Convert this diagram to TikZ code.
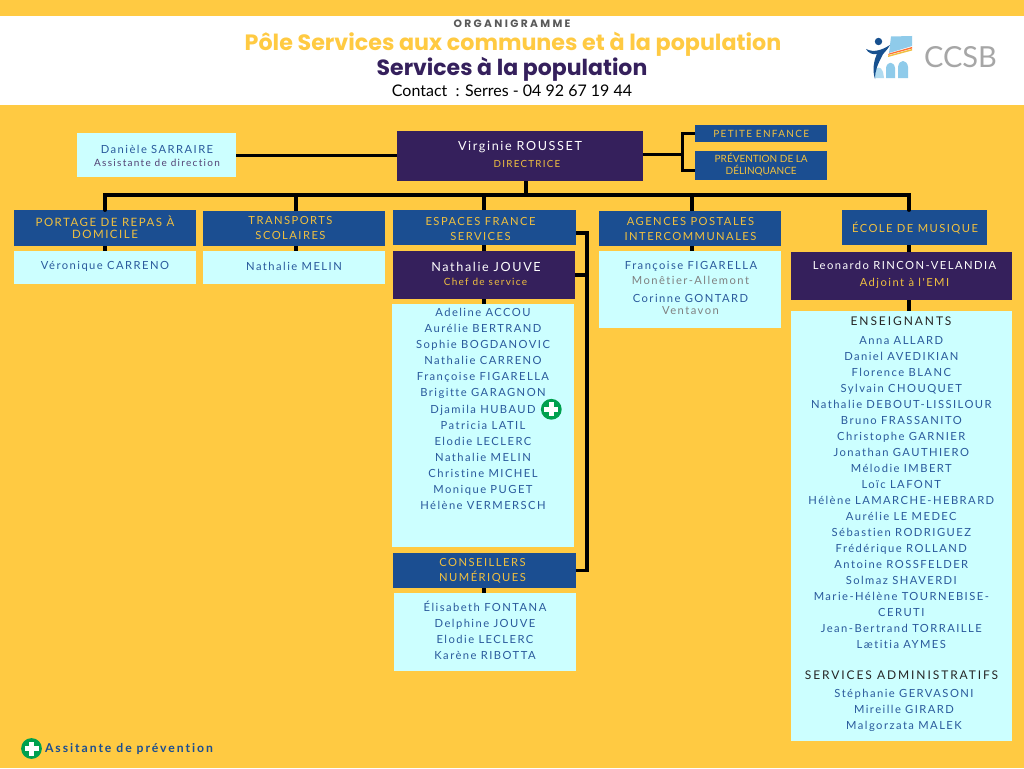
\documentclass[tikz,border=0pt]{standalone}
\usepackage{fontspec}
\setmainfont{Lato}
\newfontfamily\spacedfont[LetterSpace=13,Ligatures=NoCommon]{Lato}
\newfontfamily\widefont[LetterSpace=16,Ligatures=NoCommon]{Lato}
\newfontfamily\titlefont[BoldFont={Poppins Bold}]{Poppins}
\newfontfamily\capsfont[LetterSpace=22,BoldFont={Poppins Bold}]{Poppins}
\definecolor{fond}{HTML}{FFCA42}
\definecolor{violet}{HTML}{35205C}
\definecolor{bleu}{HTML}{1B4E91}
\definecolor{ciel}{HTML}{CCFFFF}
\definecolor{nom}{HTML}{2A5A9C}
\definecolor{or}{HTML}{F0C040}
\definecolor{titreor}{HTML}{FFCA42}
\definecolor{vert}{HTML}{00A04E}
\definecolor{logobleu}{HTML}{8FCBEA}
\definecolor{logonuit}{HTML}{17508F}
\tikzset{
  boxsize/.style 2 args={minimum width=#1pt,minimum height=#2pt},
  panel/.style={inner sep=0pt,outer sep=0pt},
  sectionbox/.style={panel,fill=bleu,text=or,align=center,font=\spacedfont\fontsize{11.2}{15}\selectfont},
  chiefbox/.style={panel,fill=violet,text=white,align=center},
  namebox/.style={panel,fill=ciel,text=nom,align=center,font=\spacedfont\fontsize{11.2}{14}\selectfont},
  nameline/.style={panel,text=nom,font=\spacedfont\fontsize{11.2}{14}\selectfont},
  namelist/.style={panel,anchor=north,text=nom,align=center,font=\spacedfont\fontsize{11.2}{16}\selectfont},
  grouphead/.style={panel,text=black!85,font=\widefont\fontsize{12}{14}\selectfont},
  link/.style={line width=3.9pt},
  thinlink/.style={line width=3pt}
}
\newcommand{\plusmark}[2]{
  \fill[vert] (#1,#2) circle (10.4pt);
  \fill[white] (#1-7,#2-2.6) rectangle (#1+7,#2+2.6);
  \fill[white] (#1-2.6,#2-7) rectangle (#1+2.6,#2+7);
}
\begin{document}
\begin{tikzpicture}[x=1pt,y=-1pt]
  \useasboundingbox (0,0) rectangle (1024,768);
  \fill[fond] (0,0) rectangle (1024,768);
  \fill[white] (0,16) rectangle (1024,105);

  % header
  \node[panel,text=black!65,font=\capsfont\bfseries\fontsize{10.7}{12}\selectfont] (orga) at (512,24) {ORGANIGRAMME};
  \node[panel,text=titreor,font=\titlefont\bfseries\fontsize{22.2}{24}\selectfont] (pole) at (513,44.5) {Pôle Services aux communes et à la population};
  \node[panel,text=violet,font=\titlefont\bfseries\fontsize{22}{24}\selectfont] (service) at (512,69.5) {Services à la population};
  \node[panel,font=\fontsize{16}{18}\selectfont] (contact) at (512,91) {Contact~ : Serres - 04 92 67 19 44};

  % logo
  \fill[logobleu] (891,36.5) -- (912,36) -- (912,46) -- (889,53) -- cycle;
  \fill[red!70!yellow!80] (889,53.5) -- (912,47) -- (912,48.5) -- (888,55) -- cycle;
  \fill[or] (888,55.5) -- (912,49) -- (912,50.5) -- (888,57) -- cycle;
  \fill[logobleu!70] (875,78) -- (875,72) .. controls (876,66) and (881,66) .. (883,72) -- (884,78) -- cycle;
  \fill[logobleu] (886,78) -- (886,68) .. controls (887,61) and (894,61) .. (895,68) -- (895,78) -- cycle;
  \fill[logobleu] (898,78) -- (898,67) .. controls (899,59) and (907,59) .. (908,67) -- (908,78) -- cycle;
  \fill[logonuit] (878.5,41.5) circle (3.7pt);
  \fill[logonuit] (866,49) .. controls (874,53) and (882,50) .. (890,45) .. controls (886,52) and (883,53) .. (882,56)
    .. controls (878,64) and (875,70) .. (875,79) .. controls (872,70) and (874,60) .. (877,54) .. controls (873,55) and (868,53) .. (866,49) -- cycle;
  \node[panel,text=black!35,font=\fontsize{29}{30}\selectfont] (ccsb) at (960.5,57) {CCSB};

  % direction
  \node[namebox,boxsize={159}{44}] (sarraire) at (156.5,155) {};
  \node[nameline] (sarrairenom) at (157,149) {Danièle SARRAIRE};
  \node[panel,text=violet!85,font=\spacedfont\fontsize{10}{12}\selectfont] (sarrairerole) at (157,163) {Assistante de direction};
  \node[chiefbox,boxsize={246}{50}] (rousset) at (520,156) {};
  \node[panel,text=white,font=\spacedfont\fontsize{12.6}{14}\selectfont] (roussetnom) at (520,147.5) {Virginie ROUSSET};
  \node[panel,text=or,font=\spacedfont\fontsize{9.8}{12}\selectfont] (roussetrole) at (527,164) {DIRECTRICE};
  \node[sectionbox,boxsize={132.5}{17},font=\spacedfont\fontsize{10}{12}\selectfont] (petite) at (761.2,133.5) {PETITE ENFANCE};
  \node[sectionbox,boxsize={132.5}{29},font=\fontsize{10}{12}\selectfont] (prevention) at (761.2,165) {PRÉVENTION DE LA\\DÉLINQUANCE};

  % services
  \node[sectionbox,boxsize={182}{36}] (portage) at (105,228) {};
  \node[panel,text=or,align=center,font=\spacedfont\fontsize{11.5}{12}\selectfont] (portagetexte) at (105,227.5) {PORTAGE DE REPAS À\\DOMICILE};
  \node[sectionbox,boxsize={182}{35}] (transports) at (294,228.5) {};
  \node[panel,text=or,align=center,font=\spacedfont\fontsize{11.2}{15}\selectfont] (transportstexte) at (290.5,228) {TRANSPORTS\\SCOLAIRES};
  \node[sectionbox,boxsize={183}{35}] (espaces) at (484.5,227.5) {};
  \node[panel,text=or,align=center,font=\spacedfont\fontsize{11.2}{15}\selectfont] (espacestexte) at (480.5,229) {ESPACES FRANCE\\SERVICES};
  \node[sectionbox,boxsize={182}{35}] (agences) at (690,228.5) {};
  \node[panel,text=or,align=center,font=\spacedfont\fontsize{11.2}{15}\selectfont] (agencestexte) at (690.5,228.5) {AGENCES POSTALES\\INTERCOMMUNALES};
  \node[sectionbox,boxsize={145}{35}] (ecole) at (914.5,227.5) {};
  \node[panel,text=or,font=\spacedfont\fontsize{11.2}{15}\selectfont] (ecoletexte) at (915,228.5) {ÉCOLE DE MUSIQUE};

  \node[namebox,boxsize={182}{33}] (carreno) at (105,267.5) {};
  \node[nameline] (carrenonom) at (105,266.5) {Véronique CARRENO};
  \node[namebox,boxsize={182}{33}] (melin) at (294,267.5) {};
  \node[nameline] (melinnom) at (294,266.5) {Nathalie MELIN};

  % espaces france services
  \node[chiefbox,boxsize={182}{48}] (jouve) at (484,275) {};
  \node[panel,text=white,font=\spacedfont\fontsize{12.6}{14}\selectfont] (jouvenom) at (486,267) {Nathalie JOUVE};
  \node[panel,text=or,font=\spacedfont\fontsize{10}{12}\selectfont] (jouverole) at (485.5,282) {Chef de service};
  \node[namebox,boxsize={182}{243}] (espacesbox) at (483,425.5) {};
  \node[namelist] (espacesnoms) at (483,304.8) {\strut Adeline ACCOU\\
    Aurélie BERTRAND\\
    Sophie BOGDANOVIC\\
    Nathalie CARRENO\\
    Françoise FIGARELLA\\
    Brigitte GARAGNON\\[1pt]
    Djamila HUBAUD\\
    Patricia LATIL\\
    Elodie LECLERC\\
    Nathalie MELIN\\
    Christine MICHEL\\
    Monique PUGET\\
    Hélène VERMERSCH};
  \plusmark{551.3}{409.3}
  \node[sectionbox,boxsize={182.5}{35}] (conseillers) at (484.7,570.5) {};
  \node[panel,text=or,align=center,font=\spacedfont\fontsize{11.2}{14.5}\selectfont] (conseillerstexte) at (482.5,571) {CONSEILLERS\\NUMÉRIQUES};
  \node[namebox,boxsize={182}{78}] (conseillersbox) at (485,632) {};
  \node[namelist] (conseillersnoms) at (485,599.8) {\strut Élisabeth FONTANA\\
    Delphine JOUVE\\
    Elodie LECLERC\\
    Karène RIBOTTA};

  % agences postales
  \node[namebox,boxsize={182}{77}] (agencesbox) at (690,289.5) {};
  \node[nameline] (figarella) at (691,266.5) {Françoise FIGARELLA};
  \node[nameline,text=black!50] (monetier) at (690.5,280.5) {Monêtier-Allemont};
  \node[nameline] (gontard) at (690.5,298.3) {Corinne GONTARD};
  \node[nameline,text=black!50] (ventavon) at (690.5,310.5) {Ventavon};

  % ecole de musique
  \node[chiefbox,boxsize={221}{48}] (rincon) at (901.5,276) {};
  \node[nameline,text=white] (rinconnom) at (904.5,265.5) {Leonardo RINCON-VELANDIA};
  \node[nameline,text=or] (rinconrole) at (904.5,283) {Adjoint à l'EMI};
  \node[namebox,boxsize={221}{430}] (ecolebox) at (901.5,526) {};
  \node[grouphead] (enseignants) at (901,320.7) {ENSEIGNANTS};
  \node[namelist] (enseignantsnoms) at (901.3,332.8) {\strut Anna ALLARD\\
    Daniel AVEDIKIAN\\
    Florence BLANC\\
    Sylvain CHOUQUET\\
    Nathalie DEBOUT-LISSILOUR\\
    Bruno FRASSANITO\\
    Christophe GARNIER\\
    Jonathan GAUTHIERO\\
    Mélodie IMBERT\\
    Loïc LAFONT\\
    Hélène LAMARCHE-HEBRARD\\
    Aurélie LE MEDEC\\
    Sébastien RODRIGUEZ\\
    Frédérique ROLLAND\\
    Antoine ROSSFELDER\\
    Solmaz SHAVERDI\\
    Marie-Hélène TOURNEBISE-\\
    CERUTI\\
    Jean-Bertrand TORRAILLE\\
    Lætitia AYMES};
  \node[grouphead] (administratifs) at (901.5,675) {SERVICES ADMINISTRATIFS};
  \node[namelist] (administratifsnoms) at (904,685.8) {\strut Stéphanie GERVASONI\\
    Mireille GIRARD\\
    Malgorzata MALEK};

  % legende
  \plusmark{31.5}{748.5}
  \node[panel,anchor=west,text=bleu,font=\widefont\bfseries\fontsize{12.2}{14}\selectfont] (legende) at (45,749) {Assitante de prévention};

  % liaisons
  \coordinate (busgauche) at (105,195);
  \coordinate (busdroite) at (909,195);
  \coordinate (bustransports) at (296,195);
  \coordinate (busespaces) at (484,195);
  \coordinate (busagences) at (692,195);
  \coordinate (busrousset) at (526,195);
  \coordinate (fourche) at (682,154);
  \coordinate (crochet) at (587,233);
  \draw[thinlink] (sarraire.east) to (rousset.west |- sarraire.east);
  \draw[thinlink] (rousset.east |- fourche) to (fourche);
  \draw[thinlink] (petite.west) -| (fourche) |- (prevention.west |- 0,170);
  \draw[link] (rousset.south -| busrousset) to (busrousset);
  \draw[link,line cap=round] (busgauche |- portage.north) to (busgauche) to (busdroite) to (busdroite |- ecole.north);
  \draw[link] (bustransports) to (bustransports |- transports.north);
  \draw[link] (busespaces) to (busespaces |- espaces.north);
  \draw[link] (busagences) to (busagences |- agences.north);
  \draw[link] (busgauche |- portage.south) to (busgauche |- carreno.north);
  \draw[link] (bustransports |- transports.south) to (bustransports |- melin.north);
  \draw[link] (busagences |- agences.south) to (busagences |- agencesbox.north);
  \draw[link] (busespaces |- espaces.south) to (busespaces |- jouve.north);
  \draw[link] (busespaces |- jouve.south) to (busespaces |- espacesbox.north);
  \draw[link] (busespaces |- conseillers.south) to (busespaces |- conseillersbox.north);
  \draw[link] (busdroite |- ecole.south) to (busdroite |- rincon.north);
  \draw[link] (busdroite |- rincon.south) to (busdroite |- ecolebox.north);
  \draw[link] (espaces.east |- crochet) -- (crochet) -- (crochet |- conseillers.east) -- (conseillers.east);
  \draw[link] (jouve.east) to (crochet |- jouve.east);
\end{tikzpicture}
\end{document}
